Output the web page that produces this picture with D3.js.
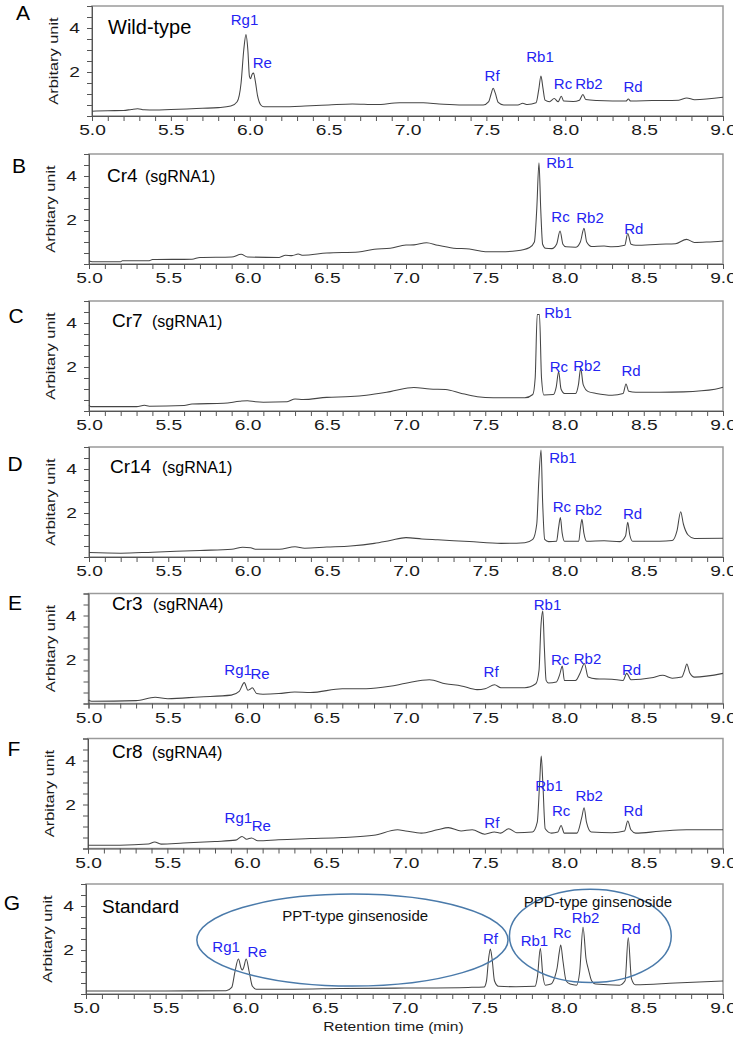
<!DOCTYPE html>
<html><head><meta charset="utf-8">
<script src="https://cdn.jsdelivr.net/npm/d3@7"></script>
<style>
html,body{margin:0;padding:0;background:#fff;}
svg{display:block;}
</style></head><body>
<svg id="chart" width="733" height="1038"></svg>
<script>
// ---------------- data ----------------
const xTicks = [5.0, 5.5, 6.0, 6.5, 7.0, 7.5, 8.0, 8.5, 9.0];
const yTicks = [2, 4];
const panelLetters = ["A", "B", "C", "D", "E", "F", "G"];
const sampleNames = ["Wild-type", "Cr4", "Cr7", "Cr14", "Cr3", "Cr8", "Standard"];
const guideNames = ["", "(sgRNA1)", "(sgRNA1)", "(sgRNA1)", "(sgRNA4)", "(sgRNA4)", ""];
const yAxisTitle = "Arbitary unit";
const xAxisTitle = "Retention time (min)";

// retention time (min), signal (arbitrary unit)
const traceA = [[5.00,0.22],[5.10,0.24],[5.20,0.25],[5.25,0.30],[5.29,0.33],[5.33,0.28],[5.40,0.27],[5.50,0.30],[5.60,0.32],[5.70,0.35],[5.80,0.38],[5.88,0.45],[5.92,0.65],[5.945,1.5],[5.962,3.0],[5.976,3.7],[5.988,3.0],[5.998,1.8],[6.005,1.7],[6.015,1.9],[6.024,1.95],[6.035,1.6],[6.05,0.9],[6.07,0.5],[6.09,0.42],[6.20,0.42],[6.35,0.45],[6.50,0.50],[6.65,0.55],[6.80,0.52],[6.95,0.60],[7.10,0.60],[7.20,0.55],[7.35,0.50],[7.48,0.50],[7.515,0.65],[7.53,1.0],[7.543,1.26],[7.556,1.05],[7.575,0.62],[7.61,0.50],[7.70,0.50],[7.73,0.58],[7.76,0.52],[7.815,0.60],[7.832,1.2],[7.846,1.82],[7.858,1.3],[7.872,0.72],[7.90,0.65],[7.93,0.80],[7.955,0.65],[7.975,0.90],[7.99,0.68],[8.05,0.66],[8.09,0.72],[8.112,0.98],[8.13,0.75],[8.20,0.70],[8.30,0.68],[8.385,0.68],[8.40,0.77],[8.415,0.68],[8.55,0.70],[8.72,0.72],[8.77,0.82],[8.82,0.74],[9.00,0.85]];
const traceB = [[5.00,0.15],[5.02,0.10],[5.20,0.10],[5.21,0.15],[5.38,0.15],[5.40,0.20],[5.65,0.22],[5.70,0.30],[5.90,0.32],[5.96,0.44],[6.00,0.32],[6.20,0.30],[6.24,0.40],[6.28,0.38],[6.32,0.45],[6.35,0.40],[6.50,0.50],[6.70,0.55],[6.80,0.67],[6.90,0.72],[7.00,0.86],[7.05,0.87],[7.13,0.97],[7.20,0.85],[7.30,0.72],[7.40,0.68],[7.50,0.56],[7.60,0.56],[7.70,0.60],[7.78,0.75],[7.81,1.0],[7.825,2.5],[7.839,4.6],[7.85,2.5],[7.862,0.9],[7.88,0.72],[7.92,0.70],[7.95,0.90],[7.972,1.5],[7.99,0.90],[8.01,0.78],[8.07,0.76],[8.10,1.0],[8.123,1.62],[8.14,1.0],[8.17,0.80],[8.25,0.82],[8.30,0.78],[8.38,0.85],[8.399,1.39],[8.42,0.90],[8.45,0.85],[8.60,0.90],[8.70,0.92],[8.77,1.12],[8.82,0.98],[8.90,1.00],[9.00,1.05]];
const traceC = [[5.00,0.27],[5.01,0.20],[5.30,0.20],[5.35,0.26],[5.38,0.22],[5.60,0.25],[5.65,0.32],[5.85,0.35],[5.95,0.44],[6.00,0.47],[6.05,0.42],[6.10,0.40],[6.25,0.42],[6.30,0.55],[6.35,0.52],[6.50,0.62],[6.65,0.66],[6.75,0.72],[6.90,0.88],[7.05,1.07],[7.15,1.00],[7.25,0.98],[7.35,0.80],[7.45,0.65],[7.55,0.60],[7.75,0.60],[7.80,0.75],[7.815,1.5],[7.828,4.39],[7.842,4.39],[7.855,1.5],[7.87,0.73],[7.93,0.75],[7.948,1.1],[7.963,1.79],[7.978,1.0],[8.00,0.80],[8.07,0.80],[8.088,1.2],[8.102,1.94],[8.118,1.2],[8.15,0.88],[8.20,0.80],[8.30,0.72],[8.37,0.80],[8.388,1.23],[8.405,0.90],[8.45,0.85],[8.60,0.85],[8.75,0.87],[8.95,0.99],[9.00,1.08]];
const traceD = [[5.00,0.20],[5.20,0.17],[5.40,0.22],[5.70,0.30],[5.90,0.35],[5.97,0.44],[6.02,0.42],[6.05,0.35],[6.20,0.35],[6.30,0.47],[6.36,0.40],[6.50,0.45],[6.65,0.50],[6.80,0.62],[6.90,0.75],[7.00,0.88],[7.10,0.82],[7.20,0.78],[7.40,0.70],[7.60,0.62],[7.75,0.65],[7.80,0.80],[7.825,1.5],[7.838,3.5],[7.852,4.86],[7.862,2.5],[7.875,0.80],[7.90,0.70],[7.95,0.72],[7.962,1.3],[7.974,1.79],[7.985,1.1],[8.00,0.72],[8.09,0.72],[8.10,1.3],[8.11,1.71],[8.122,1.1],[8.14,0.72],[8.25,0.74],[8.35,0.70],[8.385,0.95],[8.399,1.58],[8.412,1.0],[8.43,0.72],[8.60,0.72],[8.68,0.75],[8.71,1.2],[8.733,2.06],[8.75,1.5],[8.78,1.0],[8.82,0.84],[9.00,0.85]];
const traceE = [[5.00,0.16],[5.02,0.10],[5.30,0.13],[5.42,0.28],[5.50,0.22],[5.70,0.30],[5.90,0.38],[5.95,0.55],[5.982,0.95],[6.005,0.60],[6.018,0.65],[6.033,0.72],[6.06,0.45],[6.10,0.42],[6.20,0.45],[6.30,0.52],[6.40,0.50],[6.60,0.67],[6.75,0.67],[6.90,0.78],[7.00,0.92],[7.15,1.08],[7.25,0.90],[7.35,0.80],[7.45,0.63],[7.50,0.67],[7.56,0.85],[7.60,0.72],[7.75,0.72],[7.82,0.90],[7.84,1.5],[7.852,3.5],[7.864,4.2],[7.874,2.5],[7.885,1.05],[7.90,0.93],[7.95,0.98],[7.97,1.3],[7.987,1.7],[8.00,1.05],[8.07,1.05],[8.10,1.4],[8.126,1.82],[8.15,1.2],[8.20,1.12],[8.30,1.10],[8.37,1.05],[8.393,1.37],[8.42,1.08],[8.55,1.17],[8.62,1.28],[8.68,1.15],[8.74,1.20],[8.758,1.5],[8.772,1.8],[8.79,1.4],[8.82,1.2],[9.00,1.37]];
const traceF = [[5.00,0.15],[5.20,0.15],[5.38,0.20],[5.42,0.30],[5.46,0.20],[5.60,0.25],[5.80,0.32],[5.93,0.38],[5.97,0.55],[6.00,0.42],[6.03,0.48],[6.07,0.35],[6.20,0.40],[6.40,0.45],[6.60,0.50],[6.80,0.60],[6.95,0.85],[7.00,0.80],[7.10,0.70],[7.20,0.85],[7.27,0.95],[7.35,0.80],[7.42,0.85],[7.50,0.65],[7.56,0.75],[7.60,0.70],[7.65,0.90],[7.70,0.72],[7.80,0.75],[7.83,1.2],[7.845,3.0],[7.855,4.2],[7.865,3.0],[7.88,0.90],[7.92,0.70],[7.96,0.75],[7.98,1.05],[8.00,0.70],[8.08,0.70],[8.11,1.4],[8.125,1.85],[8.14,1.2],[8.17,0.75],[8.30,0.72],[8.38,0.80],[8.40,1.25],[8.42,0.85],[8.45,0.70],[8.60,0.78],[8.77,0.85],[9.00,0.85]];
const traceG = [[5.00,0.14],[5.50,0.14],[5.88,0.15],[5.915,0.3],[5.935,1.0],[5.957,1.59],[5.975,1.15],[5.982,1.09],[5.99,1.2],[6.006,1.59],[6.025,1.0],[6.045,0.35],[6.07,0.22],[6.30,0.22],[6.60,0.25],[7.00,0.27],[7.40,0.30],[7.50,0.32],[7.515,0.6],[7.528,1.6],[7.539,2.05],[7.55,1.6],[7.565,0.6],[7.59,0.35],[7.70,0.33],[7.82,0.35],[7.835,0.8],[7.853,2.08],[7.868,0.9],[7.885,0.40],[7.92,0.45],[7.945,0.8],[7.958,1.17],[7.972,1.9],[7.981,2.23],[7.995,1.5],[8.015,0.6],[8.04,0.45],[8.08,0.40],[8.10,1.0],[8.121,3.03],[8.14,1.6],[8.156,1.09],[8.175,0.6],[8.20,0.45],[8.35,0.40],[8.385,0.6],[8.405,2.56],[8.425,0.7],[8.45,0.42],[8.70,0.50],[9.00,0.59]];

// peak labels: name, retention time, label baseline (arbitrary unit)
const peaksA = [["Rg1",5.967,4.14],["Re",6.08,2.18],["Rf",7.536,1.59],["Rb1",7.84,2.45],["Rc",7.986,1.23],["Rb2",8.15,1.23],["Rd",8.43,1.09]];
const peaksB = [["Rb1",7.972,4.35],["Rc",7.975,1.92],["Rb2",8.161,1.88],["Rd",8.437,1.35]];
const peaksC = [["Rb1",7.959,4.21],["Rc",7.965,1.79],["Rb2",8.142,1.83],["Rd",8.42,1.6]];
const peaksD = [["Rb1",7.99,4.26],["Rc",7.984,2.03],["Rb2",8.151,1.91],["Rd",8.429,1.71]];
const peaksE = [["Rg1",5.943,1.3],["Re",6.081,1.1],["Rf",7.538,1.19],["Rb1",7.894,4.25],["Rc",7.973,1.75],["Rb2",8.146,1.8],["Rd",8.424,1.3]];
const peaksF = [["Rg1",5.947,1.16],["Re",6.092,0.8],["Rf",7.544,0.93],["Rb1",7.904,2.61],["Rc",7.98,1.48],["Rb2",8.157,2.16],["Rd",8.434,1.48]];
const peaksG = [["Rg1",5.88,1.92],["Re",6.075,1.67],["Rf",7.54,2.27],["Rb1",7.816,2.18],["Rc",7.99,2.53],["Rb2",8.137,3.24],["Rd",8.422,2.71]];

// ginsenoside groups in the standard panel: centre time, centre value, half-width (min), half-height (unit)
const groupNames = ["PPT-type ginsenoside", "PPD-type ginsenoside"];
const groupEllipses = [[6.673, 2.45, 0.977, 2.09], [8.167, 2.64, 0.508, 2.12]];
const groupLabelAt = [[6.232, 3.32], [7.749, 3.97]];

const traces = [traceA, traceB, traceC, traceD, traceE, traceF, traceG];
const peakSets = [peaksA, peaksB, peaksC, peaksD, peaksE, peaksF, peaksG];

// ---------------- layout ----------------
const bottoms = [116, 264, 411, 557, 703.5, 848.5, 994];
const lefts = [92, 89, 89, 89, 88.5, 88, 86];
const right = 723;
const plotH = 110;
const titleDy = [28, 28, 26, 26, 16.5, 19.5, 29];
const titleX = [108, 107, 112, 110, 112, 112, 102];
const subX = [0, 145, 152, 162, 153, 152, 0];
const letterX = [23, 19, 16, 15, 15, 14, 12];
const letterCY = [12.5, 165, 315, 463, 602, 748, 902];

const FONT = "Arial, 'Liberation Sans', sans-serif";
const BLUE = "#2424f2";
const svg = d3.select("#chart");
const minorX = d3.range(50, 91).map(d => d / 10);
const minorY = d3.range(0, 11).map(d => d / 2);
const line = d3.line().curve(d3.curveMonotoneX);

panelLetters.forEach((letter, i) => {
  const left = lefts[i], bottom = bottoms[i], top = bottom - plotH;
  const x = d3.scaleLinear().domain([5, 9]).range([left, right]);
  const y = d3.scaleLinear().domain([0, 5]).range([bottom, top]);
  const g = svg.append("g");

  // frame
  g.append("rect").attr("x", left).attr("y", top).attr("width", right - left).attr("height", plotH)
    .attr("fill", "none").attr("stroke", "#9a9a9a").attr("stroke-width", 1.5);

  // x axis
  const xa = g.append("g").attr("transform", `translate(0,${bottom})`)
    .call(d3.axisBottom(x).tickValues(minorX).tickSize(5).tickPadding(3.5)
      .tickFormat(d => xTicks.some(v => Math.abs(v - d) < 1e-6) ? d.toFixed(1) : ""));
  xa.select(".domain").attr("stroke", "#555");
  xa.selectAll(".tick line").attr("stroke", "#555");
  xa.selectAll(".tick text").attr("font-family", FONT).attr("font-size", 15).attr("fill", "#1a1a1a")
    .attr("transform", "scale(1.28,1)");

  // y axis
  const ya = g.append("g").attr("transform", `translate(${left},0)`)
    .call(d3.axisLeft(y).tickValues(minorY).tickSize(5)
      .tickFormat(d => yTicks.includes(d) ? String(d) : ""));
  ya.select(".domain").attr("stroke", "#555");
  ya.selectAll(".tick line").attr("stroke", "#555");
  ya.selectAll(".tick text").attr("font-family", FONT).attr("font-size", 15).attr("fill", "#1a1a1a")
    .attr("x", -12 / 1.28).attr("transform", "scale(1.28,1)");

  g.append("text").attr("transform", `translate(${left - 38},${(top + bottom) / 2}) rotate(-90) scale(1.26,1)`)
    .attr("text-anchor", "middle").attr("dominant-baseline", "central")
    .attr("font-family", FONT).attr("font-size", 13).attr("fill", "#1a1a1a").text(yAxisTitle);

  // trace
  g.append("path").attr("d", line(traces[i].map(d => [x(d[0]), y(d[1])])))
    .attr("fill", "none").attr("stroke", "#454545").attr("stroke-width", 1.05).attr("stroke-linejoin", "round");

  // peak labels
  g.selectAll("text.peak").data(peakSets[i]).join("text").attr("class", "peak")
    .attr("x", d => x(d[1])).attr("y", d => y(d[2])).attr("text-anchor", "middle")
    .attr("font-family", FONT).attr("font-size", 15).attr("fill", BLUE).text(d => d[0]);

  // panel letter
  g.append("text").attr("x", letterX[i]).attr("y", letterCY[i] + 7.5).attr("text-anchor", "middle")
    .attr("font-family", FONT).attr("font-size", 21).attr("fill", "#000").text(letter);

  // sample title
  g.append("text").attr("x", titleX[i]).attr("y", top + titleDy[i])
    .attr("font-family", FONT).attr("font-size", i === 0 ? 20 : 19).attr("fill", "#000").text(sampleNames[i]);
  if (guideNames[i]) {
    g.append("text").attr("x", subX[i]).attr("y", top + titleDy[i])
      .attr("font-family", FONT).attr("font-size", 16).attr("fill", "#000").text(guideNames[i]);
  }

  if (i === panelLetters.length - 1) {
    groupEllipses.forEach((e, k) => {
      g.append("ellipse").attr("cx", x(e[0])).attr("cy", y(e[1]))
        .attr("rx", x(e[0] + e[2]) - x(e[0])).attr("ry", y(e[1] - e[3]) - y(e[1]))
        .attr("fill", "none").attr("stroke", "#4a7aaa").attr("stroke-width", 1.5);
      g.append("text").attr("x", x(groupLabelAt[k][0])).attr("y", y(groupLabelAt[k][1]))
        .attr("font-family", FONT).attr("font-size", 15).attr("fill", "#111").text(groupNames[k]);
    });
    g.append("text").attr("transform", `translate(${(323 + 464) / 2},${bottom + 37}) scale(1.2,1)`)
      .attr("text-anchor", "middle").attr("font-family", FONT).attr("font-size", 13)
      .attr("fill", "#1a1a1a").text(xAxisTitle);
  }
});
</script>
</body></html>
